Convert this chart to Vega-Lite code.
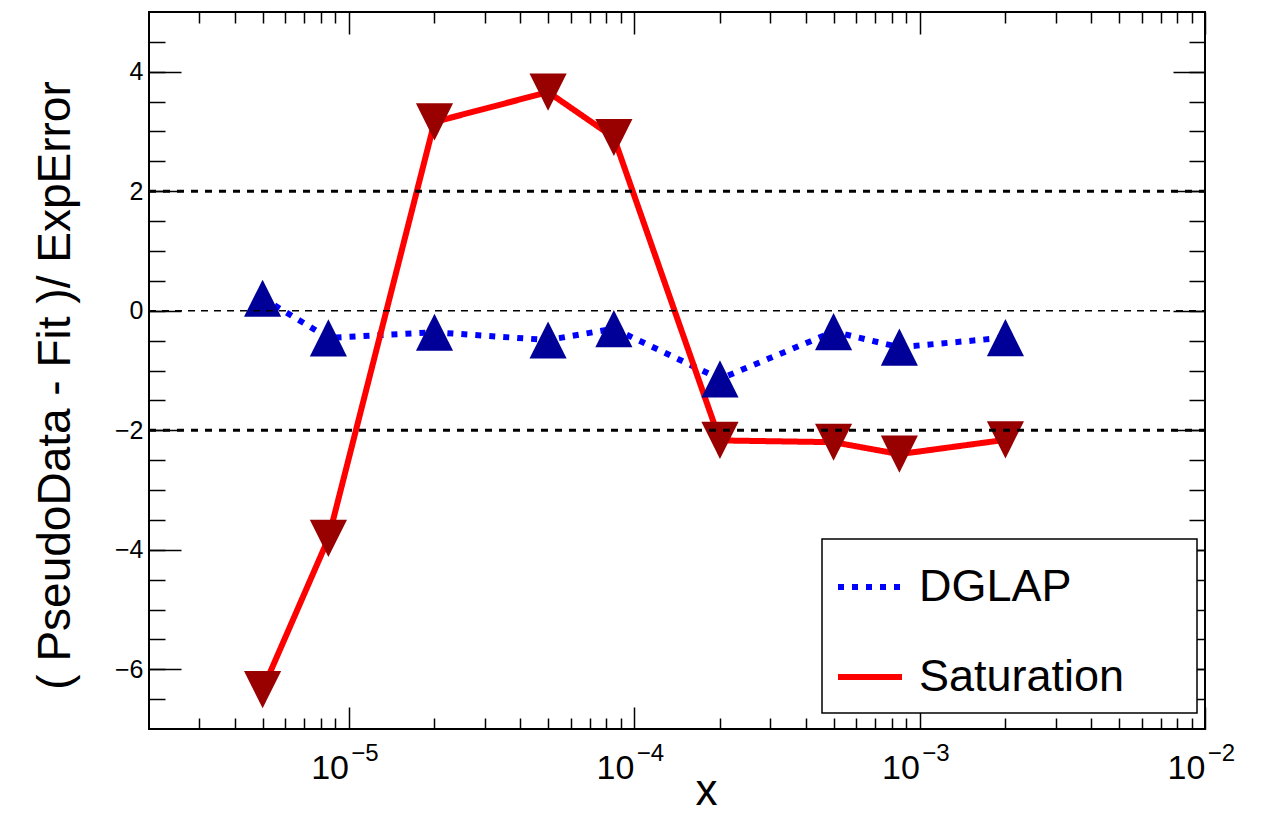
{
  "$schema": "https://vega.github.io/schema/vega-lite/v6.json",
  "width": 1056,
  "height": 717,
  "autosize": {"type": "none"},
  "padding": {"left": 149, "top": 12, "right": 64, "bottom": 84},
  "background": "white",
  "config": {
    "font": "Liberation Sans",
    "view": {"stroke": "black", "strokeWidth": 2},
    "axis": {
      "domain": false,
      "grid": false,
      "tickColor": "black",
      "tickWidth": 1.5,
      "labelColor": "black",
      "titleColor": "black",
      "labelFont": "Liberation Sans",
      "titleFont": "Liberation Sans",
      "titleFontWeight": "normal",
      "labelOverlap": false,
      "labelFlush": false,
      "labelBound": false
    },
    "legend": {"strokeWidth": 1.5}
  },
  "datasets": {
    "pts": [
      {"series": "DGLAP", "x": 0.000005, "y": 0.21},
      {"series": "DGLAP", "x": 0.0000085, "y": -0.455},
      {"series": "DGLAP", "x": 0.00002, "y": -0.36},
      {"series": "DGLAP", "x": 0.00005, "y": -0.49},
      {"series": "DGLAP", "x": 0.000085, "y": -0.30},
      {"series": "DGLAP", "x": 0.0002, "y": -1.14},
      {"series": "DGLAP", "x": 0.0005, "y": -0.35},
      {"series": "DGLAP", "x": 0.00085, "y": -0.61},
      {"series": "DGLAP", "x": 0.002, "y": -0.45},
      {"series": "Saturation", "x": 0.000005, "y": -6.34},
      {"series": "Saturation", "x": 0.0000085, "y": -3.81},
      {"series": "Saturation", "x": 0.00002, "y": 3.16},
      {"series": "Saturation", "x": 0.00005, "y": 3.66},
      {"series": "Saturation", "x": 0.000085, "y": 2.90},
      {"series": "Saturation", "x": 0.0002, "y": -2.17},
      {"series": "Saturation", "x": 0.0005, "y": -2.20},
      {"series": "Saturation", "x": 0.00085, "y": -2.40},
      {"series": "Saturation", "x": 0.002, "y": -2.16}
    ],
    "band": [{"level": 2}, {"level": -2}],
    "zero": [{"level": 0}]
  },
  "layer": [
    {
      "data": {"name": "pts"},
      "transform": [{"filter": "datum.series === 'DGLAP'"}],
      "mark": {"type": "line", "strokeWidth": 6, "strokeCap": "butt"},
      "encoding": {
        "x": {
          "field": "x", "type": "quantitative",
          "scale": {"type": "log", "domain": [0.000002, 0.01], "nice": false},
          "axis": {
            "orient": "bottom", "values": [0.00001, 0.0001, 0.001, 0.01],
            "ticks": false, "labelExpr": "'10'", "labelFontSize": 34,
            "labelBaseline": "alphabetic", "labelAlign": "center",
            "labelPadding": 49, "labelOffset": -19,
            "title": "x", "titleFontSize": 44, "titleX": 557, "titleY": 75,
            "titleBaseline": "alphabetic", "titleAlign": "center"
          }
        },
        "y": {
          "field": "y", "type": "quantitative",
          "scale": {"domain": [-7, 5], "nice": false, "zero": false},
          "axis": {
            "orient": "left", "values": [-6, -4, -2, 0, 2, 4],
            "ticks": false, "labelFontSize": 25, "labelPadding": 6, "format": "d",
            "title": "( PseudoData - Fit )/ ExpError", "titleFontSize": 46,
            "titleAngle": -90, "titleX": -80, "titleY": 373,
            "titleAlign": "center", "titleBaseline": "alphabetic"
          }
        },
        "stroke": {
          "field": "series", "type": "nominal",
          "scale": {"domain": ["DGLAP", "Saturation"], "range": ["#0000ff", "#ff0000"]},
          "legend": {
            "title": null, "orient": "none", "legendX": 673, "legendY": 527,
            "padding": 13, "fillColor": "white", "strokeColor": "black",
            "labelFontSize": 45, "labelFont": "Liberation Sans", "labelColor": "black",
            "symbolType": "stroke", "symbolSize": 4096, "symbolStrokeWidth": 6,
            "labelOffset": 14, "rowPadding": 32, "labelLimit": 600,
            "labelExpr": "datum.label + '\u00a0\u00a0\u00a0\u00a0\u2009\u200b'"
          }
        },
        "strokeDash": {
          "field": "series", "type": "nominal",
          "scale": {"domain": ["DGLAP", "Saturation"], "range": [[6, 8], [1, 0]]},
          "legend": {
            "title": null, "orient": "none", "legendX": 673, "legendY": 527,
            "padding": 13, "fillColor": "white", "strokeColor": "black",
            "labelFontSize": 45, "labelFont": "Liberation Sans", "labelColor": "black",
            "symbolType": "stroke", "symbolSize": 4096, "symbolStrokeWidth": 6,
            "labelOffset": 14, "rowPadding": 32, "labelLimit": 600,
            "labelExpr": "datum.label + '\u00a0\u00a0\u00a0\u00a0\u2009\u200b'"
          }
        }
      }
    },
    {
      "data": {"name": "pts"},
      "transform": [{"filter": "datum.series === 'Saturation'"}],
      "mark": {"type": "line", "strokeWidth": 6, "strokeCap": "butt"},
      "encoding": {
        "x": {
          "field": "x", "type": "quantitative",
          "scale": {"type": "log", "domain": [0.000002, 0.01], "nice": false},
          "axis": {
            "orient": "bottom", "values": [0.00001, 0.0001, 0.001, 0.01],
            "ticks": false,
            "labelExpr": "'\u2212' + round(-log(datum.value) / LN10)",
            "labelFontSize": 24, "labelBaseline": "alphabetic", "labelAlign": "center",
            "labelPadding": 31, "labelOffset": 16, "title": null
          }
        },
        "y": {
          "field": "y", "type": "quantitative",
          "scale": {"domain": [-7, 5], "nice": false, "zero": false},
          "axis": {
            "orient": "left", "values": [-6, -4, -2, 0, 2, 4],
            "labels": false, "tickSize": -32, "title": null
          }
        },
        "stroke": {"field": "series", "type": "nominal"},
        "strokeDash": {"field": "series", "type": "nominal"}
      }
    },
    {
      "data": {"name": "pts"},
      "transform": [{"filter": "datum.series === 'DGLAP'"}],
      "mark": {"type": "point", "filled": true, "shape": "M0,-1L1,1L-1,1Z", "size": 1380, "color": "#000099", "opacity": 1, "strokeWidth": 0},
      "encoding": {
        "x": {
          "field": "x", "type": "quantitative",
          "scale": {"type": "log", "domain": [0.000002, 0.01], "nice": false},
          "axis": {
            "orient": "bottom", "values": [0.00001, 0.0001, 0.001, 0.01],
            "labels": false, "tickSize": -22, "title": null
          }
        },
        "y": {
          "field": "y", "type": "quantitative",
          "scale": {"domain": [-7, 5], "nice": false, "zero": false},
          "axis": {
            "orient": "left",
            "values": [-6.5, -6, -5.5, -5, -4.5, -4, -3.5, -3, -2.5, -2, -1.5, -1, -0.5, 0, 0.5, 1, 1.5, 2, 2.5, 3, 3.5, 4, 4.5],
            "labels": false, "tickSize": -16, "title": null
          }
        }
      }
    },
    {
      "data": {"name": "pts"},
      "transform": [{"filter": "datum.series === 'Saturation'"}],
      "mark": {"type": "point", "filled": true, "shape": "M-1,-1L1,-1L0,1Z", "size": 1380, "color": "#990000", "opacity": 1, "strokeWidth": 0},
      "encoding": {
        "x": {
          "field": "x", "type": "quantitative",
          "scale": {"type": "log", "domain": [0.000002, 0.01], "nice": false},
          "axis": {
            "orient": "bottom",
            "values": [0.000003, 0.000004, 0.000005, 0.000006, 0.000007, 0.000008, 0.000009, 0.00002, 0.00003, 0.00004, 0.00005, 0.00006, 0.00007, 0.00008, 0.00009, 0.0002, 0.0003, 0.0004, 0.0005, 0.0006, 0.0007, 0.0008, 0.0009, 0.002, 0.003, 0.004, 0.005, 0.006, 0.007, 0.008, 0.009],
            "labels": false, "tickSize": -11, "title": null
          }
        },
        "y": {
          "field": "y", "type": "quantitative",
          "scale": {"domain": [-7, 5], "nice": false, "zero": false},
          "axis": {
            "orient": "right", "values": [-6, -4, -2, 0, 2, 4],
            "labels": false, "tickSize": -32, "title": null
          }
        }
      }
    },
    {
      "data": {"name": "band"},
      "mark": {"type": "rule", "strokeWidth": 3, "strokeDash": [7, 7], "color": "black"},
      "encoding": {
        "x": {
          "datum": 0.000002, "type": "quantitative",
          "scale": {"type": "log", "domain": [0.000002, 0.01], "nice": false},
          "axis": {
            "orient": "top", "values": [0.00001, 0.0001, 0.001, 0.01],
            "labels": false, "tickSize": -22, "title": null
          }
        },
        "x2": {"datum": 0.01},
        "y": {
          "field": "level", "type": "quantitative",
          "scale": {"domain": [-7, 5], "nice": false, "zero": false},
          "axis": {
            "orient": "right",
            "values": [-6.5, -6, -5.5, -5, -4.5, -4, -3.5, -3, -2.5, -2, -1.5, -1, -0.5, 0, 0.5, 1, 1.5, 2, 2.5, 3, 3.5, 4, 4.5],
            "labels": false, "tickSize": -16, "title": null
          }
        }
      }
    },
    {
      "data": {"name": "zero"},
      "mark": {"type": "rule", "strokeWidth": 1.5, "strokeDash": [7, 6], "color": "black"},
      "encoding": {
        "x": {
          "datum": 0.000002, "type": "quantitative",
          "scale": {"type": "log", "domain": [0.000002, 0.01], "nice": false},
          "axis": {
            "orient": "top",
            "values": [0.000003, 0.000004, 0.000005, 0.000006, 0.000007, 0.000008, 0.000009, 0.00002, 0.00003, 0.00004, 0.00005, 0.00006, 0.00007, 0.00008, 0.00009, 0.0002, 0.0003, 0.0004, 0.0005, 0.0006, 0.0007, 0.0008, 0.0009, 0.002, 0.003, 0.004, 0.005, 0.006, 0.007, 0.008, 0.009],
            "labels": false, "tickSize": -11, "title": null
          }
        },
        "x2": {"datum": 0.01},
        "y": {
          "field": "level", "type": "quantitative",
          "scale": {"domain": [-7, 5], "nice": false, "zero": false},
          "axis": null
        }
      }
    }
  ],
  "resolve": {"axis": {"x": "independent", "y": "independent"}}
}
